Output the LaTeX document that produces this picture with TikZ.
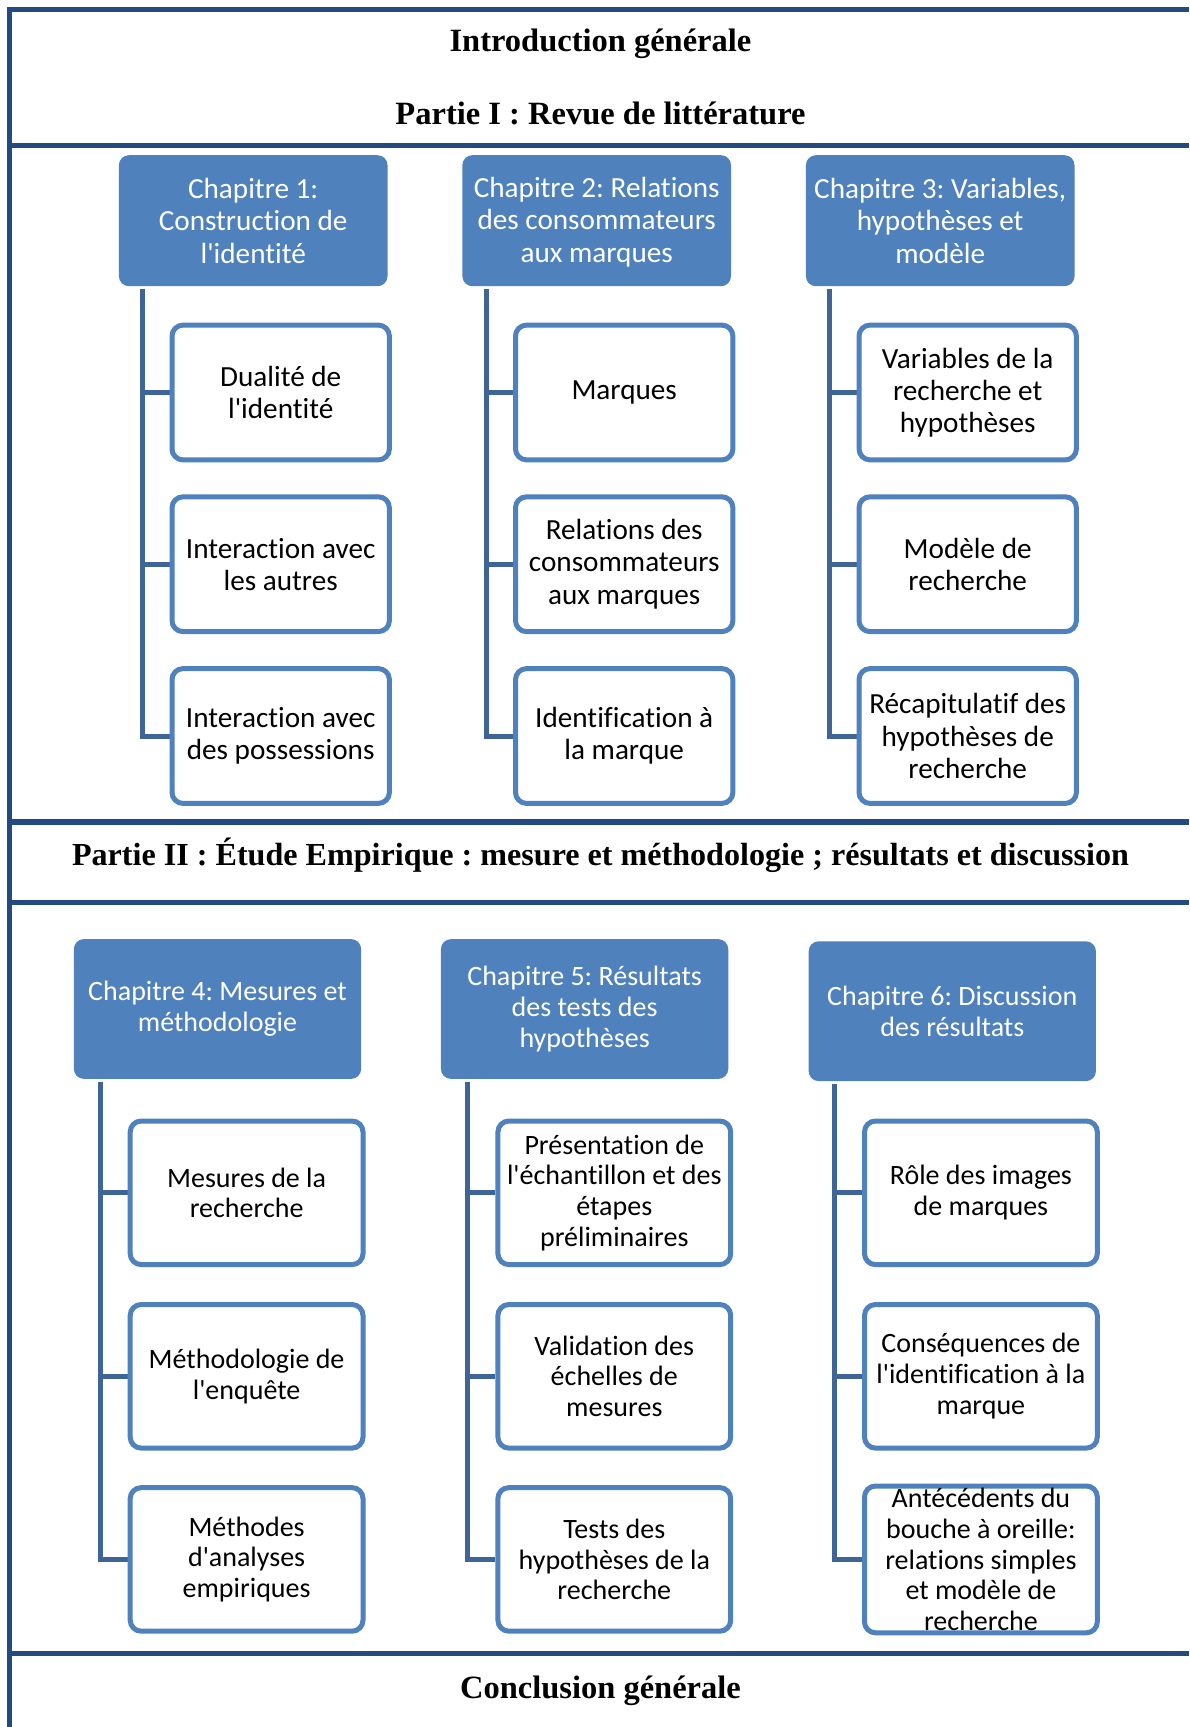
\documentclass[tikz,border=0pt]{standalone}
\usepackage{fontspec}
\setmainfont{Liberation Serif}
\newfontfamily\boxfont[Ligatures={TeXOff,CommonOff}]{Carlito}
\usetikzlibrary{backgrounds}
\definecolor{headblue}{HTML}{4F81BD}
\definecolor{itemblue}{HTML}{4F81BD}
\definecolor{brkblue}{HTML}{3F6597}
\definecolor{framenavy}{HTML}{234B7F}
\frenchspacing
\begin{document}
\begin{tikzpicture}[x=1pt,y=-1pt,
  frameline/.style={draw=framenavy,line width=5.5pt},
  partitle/.style={font=\bfseries\fontsize{32.5}{36}\selectfont,anchor=base,inner sep=0pt},
  headA/.style={fill=headblue,rounded corners=10pt,text=white,align=center,
    minimum width=268.6pt,minimum height=131pt,inner sep=2pt,
    font=\boxfont\fontsize{29.2}{32.5}\selectfont},
  itemA/.style={draw=itemblue,line width=5pt,fill=white,rounded corners=11pt,align=center,
    minimum width=217.4pt,minimum height=134.8pt,inner sep=2pt,
    font=\boxfont\fontsize{29.2}{32.2}\selectfont},
  headB/.style={headA,minimum width=287.3pt,minimum height=139.8pt,
    font=\boxfont\fontsize{28}{30.8}\selectfont},
  itemB/.style={itemA,minimum width=232.8pt,minimum height=143.6pt,
    font=\boxfont\fontsize{28}{30.8}\selectfont},
  brk/.style={draw=brkblue,line width=5pt}]
\useasboundingbox (0,0) rectangle (1189,1727);

% outer frame and section rules
\draw[frameline] (9.5,7) -- (9.5,1727);
\draw[frameline] (7,9.5) -- (1189,9.5);
\draw[frameline] (9.5,145.5) -- (1189,145.5);
\draw[frameline] (9.5,822) -- (1189,822);
\draw[frameline] (9.5,902.5) -- (1189,902.5);
\draw[frameline] (9.5,1653.5) -- (1189,1653.5);

% section titles
\node[partitle] (intro) at (600.5,51.7) {Introduction générale};
\node[partitle] (p1) at (600.5,124) {Partie I : Revue de littérature};
\node[partitle,font=\bfseries\fontsize{32.1}{36}\selectfont] (p2) at (600.5,865) {Partie II : Étude Empirique : mesure et méthodologie ; résultats et discussion};
\node[partitle] (concl) at (600.5,1698) {Conclusion générale};

% Partie I chapters
\node[headA] (c1) at (253.2,220.7) {Chapitre 1:\\Construction de\\l'identité};
\node[headA] (c2) at (596.7,220.7) {\strut Chapitre 2: Relations\\des consommateurs\\aux marques};
\node[headA] (c3) at (940.2,220.7) {Chapitre 3: Variables,\\hypothèses et\\modèle};

\node[itemA] (k11) at (280.7,392.5) {Dualité de\\l'identité};
\node[itemA] (k12) at (280.7,564.2) {Interaction avec\\les autres};
\node[itemA] (k13) at (280.7,736.0) {Interaction avec\\des possessions};

\node[itemA] (k21) at (624.2,392.5) {Marques};
\node[itemA] (k22) at (624.2,564.2) {Relations des\\consommateurs\\aux marques};
\node[itemA] (k23) at (624.2,736.0) {Identification à\\la marque};

\node[itemA] (k31) at (967.7,392.5) {Variables de la\\recherche et\\hypothèses};
\node[itemA] (k32) at (967.7,564.2) {Modèle de\\recherche};
\node[itemA] (k33) at (967.7,736.0) {Récapitulatif des\\hypothèses de\\recherche};

% Partie II chapters
\node[headB] (c4) at (217.5,1009.0) {Chapitre 4: Mesures et\\méthodologie};
\node[headB] (c5) at (584.6,1009.0) {Chapitre 5: Résultats\\des tests des\\hypothèses};
\node[headB] (c6) at (952.3,1011.2) {Chapitre 6: Discussion\\des résultats};

\node[itemB] (k41) at (246.6,1192.8) {Mesures de la\\recherche};
\node[itemB] (k42) at (246.6,1376.3) {Méthodologie de\\l'enquête};
\node[itemB] (k43) at (246.6,1559.4) {Méthodes\\d'analyses\\empiriques};

\node[itemB] (k51) at (614.3,1192.8) {Présentation de\\l'échantillon et des\\étapes\\préliminaires};
\node[itemB] (k52) at (614.3,1376.3) {Validation des\\échelles de\\mesures};
\node[itemB] (k53) at (614.3,1559.4) {Tests des\\hypothèses de la\\recherche};

\node[itemB] (k61) at (980.9,1192.8) {Rôle des images\\de marques};
\node[itemB] (k62) at (980.9,1376.3) {Conséquences de\\l'identification à la\\marque};
\node[itemB] (k63) at (980.9,1559.4) {Antécédents du\\bouche à oreille:\\relations simples\\et modèle de\\recherche};

% tree brackets from each chapter to its sections
\begin{scope}[on background layer]
\fill[white] (0,0) rectangle (1189,1727);
\foreach \c/\off/\a/\b/\d in {c1/24.2/k11/k12/k13, c2/24.2/k21/k22/k23, c3/24.2/k31/k32/k33,
                               c4/26.4/k41/k42/k43, c5/26.4/k51/k52/k53, c6/26.4/k61/k62/k63}{
  \coordinate (v-\c) at ([xshift=\off pt,yshift=-2.5pt]\c.south west);
  \draw[brk] (v-\c) |- (\d.west);
  \draw[brk] (v-\c |- \a.west) -- (\a.west);
  \draw[brk] (v-\c |- \b.west) -- (\b.west);
}
\end{scope}
\end{tikzpicture}
\end{document}
